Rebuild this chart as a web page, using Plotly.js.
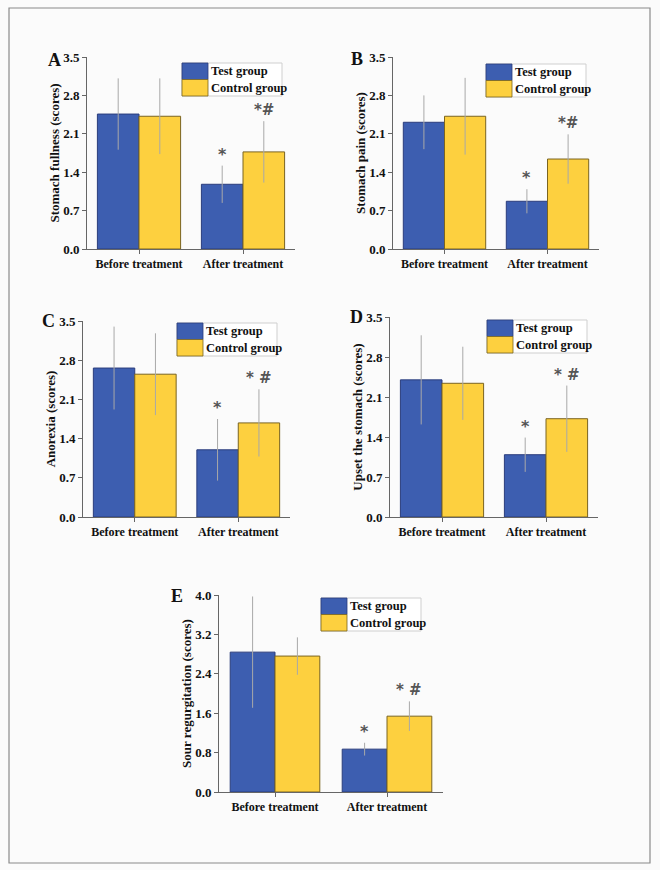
<!DOCTYPE html>
<html>
<head>
<meta charset="utf-8">
<script src="https://cdn.plot.ly/plotly-3.0.1.min.js"></script>
<style>html,body{margin:0;padding:0;background:#fbfbfb;}#chart{width:660px;height:870px;}</style>
</head>
<body>
<div id="chart"></div>
<script>
// ---------- DATA ----------
const categories = ['Before treatment', 'After treatment'];
const seriesNames = ['Test group', 'Control group'];

const panelLetters = ['A', 'B', 'C', 'D', 'E'];
const yTitles = ['Stomach fullness (scores)', 'Stomach pain (scores)', 'Anorexia (scores)', 'Upset the stomach (scores)', 'Sour regurgitation (scores)'];

const testA = [2.46, 1.18];   const testAErr = [0.65, 0.34];
const ctrlA = [2.42, 1.77];   const ctrlAErr = [0.69, 0.56];

const testB = [2.31, 0.87];   const testBErr = [0.49, 0.22];
const ctrlB = [2.42, 1.64];   const ctrlBErr = [0.70, 0.45];

const testC = [2.66, 1.20];   const testCErr = [0.74, 0.55];
const ctrlC = [2.55, 1.68];   const ctrlCErr = [0.73, 0.60];

const testD = [2.40, 1.09];   const testDErr = [0.78, 0.30];
const ctrlD = [2.34, 1.72];   const ctrlDErr = [0.64, 0.58];

const testE = [2.84, 0.87];   const testEErr = [1.13, 0.13];
const ctrlE = [2.76, 1.54];   const ctrlEErr = [0.38, 0.30];

const yMax = [3.5, 3.5, 3.5, 3.5, 4.0];
const yStep = [0.7, 0.7, 0.7, 0.7, 0.8];

const sigTest = '*';
const sigCtrl = ['*#', '*#', '* #', '* #', '* #'];

// ---------- LAYOUT / STYLE ----------
const W = 660, H = 870;
const FONT = 'Liberation Serif, Times New Roman, serif';
const BLUE = '#3d5eb0', BLUE_LINE = '#2b3d7c';
const YEL = '#fdd03f', YEL_LINE = '#7a6420';
const ERR = '#a8a8a8';
const AX = '#666';

// plot-area pixel boxes [left, top, right, bottom]
const boxes = [
  [87, 57, 295, 249],
  [393, 57, 599, 249],
  [83, 321, 290, 517],
  [390, 317, 598, 517],
  [219, 595, 443, 792]
];
// legend top-left in pixels
const legPos = [[182, 63], [486, 64], [177, 323], [487, 320], [321, 598]];
// panel letter right edge / middle y in pixels
const letterPos = [[63, 60], [365, 59], [57, 321], [365, 317], [185, 596]];

const px = x => x / W;
const py = y => 1 - y / H;

const tests = [testA, testB, testC, testD, testE];
const testErrs = [testAErr, testBErr, testCErr, testDErr, testEErr];
const ctrls = [ctrlA, ctrlB, ctrlC, ctrlD, ctrlE];
const ctrlErrs = [ctrlAErr, ctrlBErr, ctrlCErr, ctrlDErr, ctrlEErr];

const traces = [];
const layout = {
  width: W, height: H,
  margin: {l: 0, r: 0, t: 0, b: 0},
  paper_bgcolor: '#fbfbfb',
  plot_bgcolor: 'rgba(0,0,0,0)',
  barmode: 'group',
  bargap: 0.2,
  bargroupgap: 0,
  showlegend: false,
  font: {family: FONT, color: '#111', size: 12},
  shapes: [],
  annotations: []
};

// outer frame
layout.shapes.push({type: 'rect', xref: 'paper', yref: 'paper',
  x0: px(9), x1: px(650), y0: py(8), y1: py(863),
  line: {color: '#8a8a8a', width: 1.2}, fillcolor: 'rgba(0,0,0,0)', layer: 'below'});

for (let i = 0; i < 5; i++) {
  const n = i === 0 ? '' : String(i + 1);
  const xa = 'x' + n, ya = 'y' + n;
  const b = boxes[i];
  traces.push({
    type: 'bar', name: seriesNames[0], x: categories, y: tests[i], xaxis: xa, yaxis: ya,
    marker: {color: BLUE, line: {color: BLUE_LINE, width: 1}},
    error_y: {type: 'data', array: testErrs[i], visible: true, color: ERR, thickness: 1, width: 0}
  });
  traces.push({
    type: 'bar', name: seriesNames[1], x: categories, y: ctrls[i], xaxis: xa, yaxis: ya,
    marker: {color: YEL, line: {color: YEL_LINE, width: 1}},
    error_y: {type: 'data', array: ctrlErrs[i], visible: true, color: ERR, thickness: 1, width: 0}
  });

  const tv = [];
  for (let k = 0; k <= Math.round(yMax[i] / yStep[i]); k++) tv.push(+(k * yStep[i]).toFixed(2));

  layout['xaxis' + n] = {
    domain: [px(b[0]), px(b[2])], anchor: ya,
    type: 'category', range: [-0.5, 1.5],
    showline: true, linecolor: AX, linewidth: 1,
    ticks: 'outside', ticklen: 4, tickcolor: AX,
    showgrid: false, zeroline: false, fixedrange: true,
    tickfont: {family: FONT, size: 12, weight: 'bold', color: '#111'}
  };
  layout['yaxis' + n] = {
    domain: [py(b[3]), py(b[1])], anchor: xa,
    range: [0, yMax[i]], tickvals: tv, tickformat: '.1f',
    showline: true, linecolor: AX, linewidth: 1,
    ticks: 'outside', ticklen: 4, tickcolor: AX,
    showgrid: false, zeroline: false, fixedrange: true,
    tickfont: {family: FONT, size: 13, weight: 'bold', color: '#111'},
    title: {text: yTitles[i], font: {family: FONT, size: 13, weight: 'bold', color: '#111'}, standoff: 0}
  };

  // significance marks
  layout.annotations.push({xref: xa, yref: ya, x: 0.8, y: tests[i][1] + testErrs[i][1],
    text: sigTest, showarrow: false, yanchor: 'bottom', yshift: 0,
    font: {family: 'DejaVu Sans, sans-serif', size: 16, weight: 'bold', color: '#555'}});
  layout.annotations.push({xref: xa, yref: ya, x: 1.2, y: ctrls[i][1] + ctrlErrs[i][1],
    text: sigCtrl[i], showarrow: false, yanchor: 'bottom', yshift: 0,
    font: {family: 'DejaVu Sans, sans-serif', size: 15, weight: 'bold', color: '#555'}});

  // panel letter
  layout.annotations.push({xref: 'paper', yref: 'paper', x: px(letterPos[i][0]), y: py(letterPos[i][1]),
    xanchor: 'right', yanchor: 'middle', text: panelLetters[i], showarrow: false,
    font: {family: FONT, size: 18, weight: 'bold', color: '#111'}});

  // legend box
  const lx = legPos[i][0], ly = legPos[i][1];
  const lw = 100, lh = 33, sw = 26;
  layout.shapes.push({type: 'rect', xref: 'paper', yref: 'paper',
    x0: px(lx), x1: px(lx + lw), y0: py(ly + lh), y1: py(ly),
    line: {color: '#cfcfcf', width: 1}, fillcolor: '#ffffff'});
  layout.shapes.push({type: 'rect', xref: 'paper', yref: 'paper',
    x0: px(lx), x1: px(lx + sw), y0: py(ly + lh / 2), y1: py(ly),
    line: {color: BLUE_LINE, width: 0.8}, fillcolor: BLUE});
  layout.shapes.push({type: 'rect', xref: 'paper', yref: 'paper',
    x0: px(lx), x1: px(lx + sw), y0: py(ly + lh), y1: py(ly + lh / 2),
    line: {color: YEL_LINE, width: 0.8}, fillcolor: YEL});
  layout.annotations.push({xref: 'paper', yref: 'paper', x: px(lx + sw + 1), y: py(ly + lh / 4),
    xanchor: 'left', yanchor: 'middle', text: seriesNames[0], showarrow: false,
    font: {family: FONT, size: 12.5, weight: 'bold', color: '#111'}});
  layout.annotations.push({xref: 'paper', yref: 'paper', x: px(lx + sw + 1), y: py(ly + 3 * lh / 4),
    xanchor: 'left', yanchor: 'middle', text: seriesNames[1], showarrow: false,
    font: {family: FONT, size: 12.5, weight: 'bold', color: '#111'}});
}

Plotly.newPlot('chart', traces, layout, {staticPlot: true, displayModeBar: false});
</script>
</body>
</html>
